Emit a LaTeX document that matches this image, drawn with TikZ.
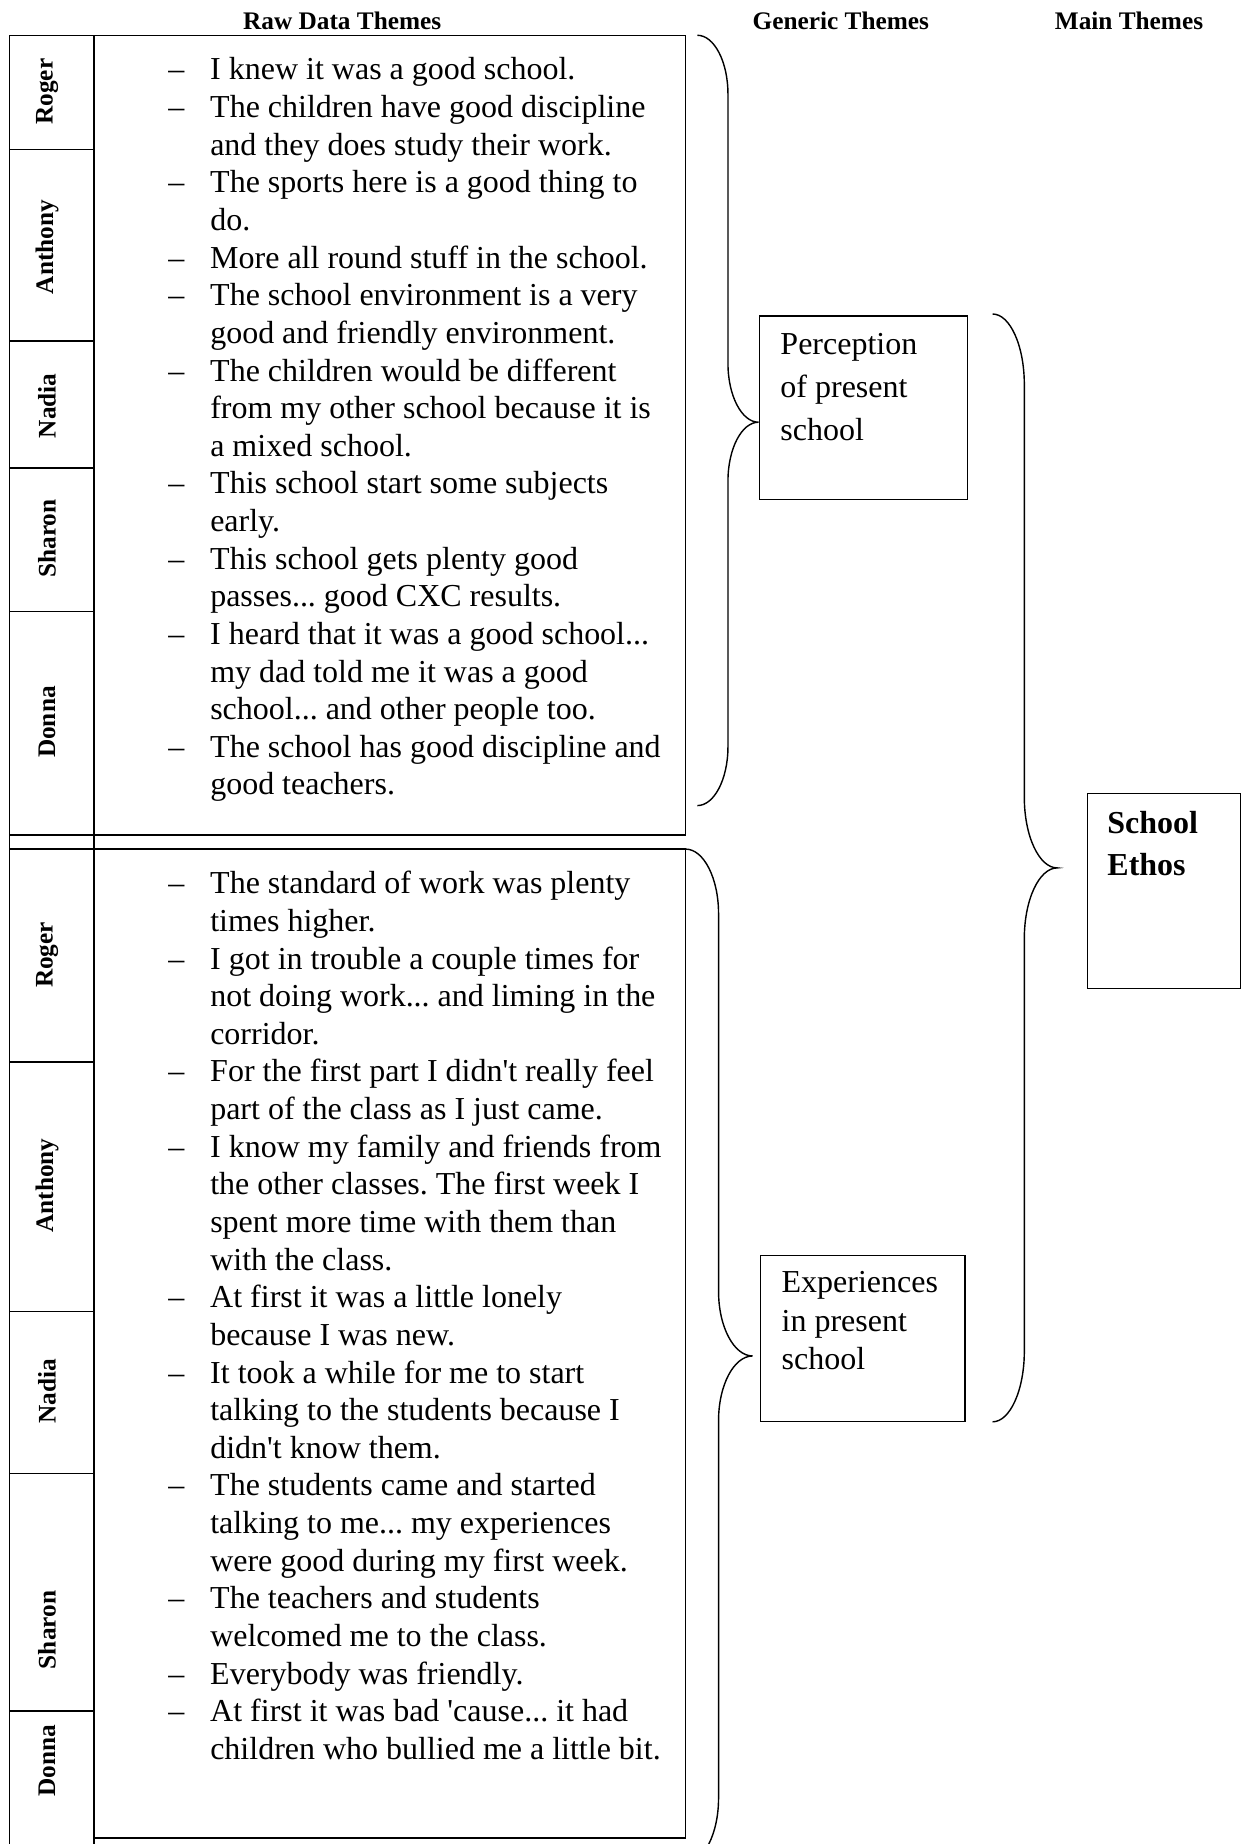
\documentclass[tikz,border=0pt]{standalone}
\usepackage{fontspec}
\setmainfont{Liberation Serif}[Ligatures=TeXOff]
\frenchspacing

% Curly brace opening to the right:
% #1 left end x, #2 stem x, #3 tip x, #4 top y, #5 tip y, #6 bottom y, #7 bend height
\newcommand{\curlybrace}[7]{%
  \draw[bracestroke] (#1,#4)
    .. controls ({#1+0.55*(#2-#1)},#4) and (#2,{#4+0.45*#7}) .. (#2,{#4+#7})
    -- (#2,{#5-#7})
    .. controls (#2,{#5-0.45*#7}) and ({#3-0.55*(#3-#2)},#5) .. (#3,#5)
    .. controls ({#3-0.55*(#3-#2)},#5) and (#2,{#5+0.45*#7}) .. (#2,{#5+#7})
    -- (#2,{#6-#7})
    .. controls (#2,{#6-0.45*#7}) and ({#1+0.55*(#2-#1)},#6) .. (#1,#6);}

\begin{document}
\begin{tikzpicture}[x=1pt,y=-1pt,
  frame/.style={line width=1.3pt},
  bracestroke/.style={line width=1.2pt},
  hdr/.style={font=\fontsize{21.5}{26}\selectfont\bfseries, inner sep=0pt, anchor=base},
  who/.style={font=\fontsize{21.5}{26}\selectfont\bfseries, rotate=90, inner sep=0pt},
  quotes/.style={font=\fontsize{27.2}{32}\selectfont, inner sep=0pt, anchor=base west},
  theme/.style={draw, line width=1.3pt, anchor=north west, inner sep=0pt}
]
\useasboundingbox (0,0) rectangle (1058,1568);
\clip (0,0) rectangle (1058,1568);

% column headings
\node[hdr] (hraw) at (291,25) {Raw Data Themes};
\node[hdr] (hgen) at (715,25) {Generic Themes};
\node[hdr] (hmain) at (960,25) {Main Themes};

% table frame, upper block
\draw[frame] (8,30) -- (583,30) -- (583,710) -- (8,710);
% table frame, lower block
\draw[frame] (8,722) -- (583,722) -- (583,1563) -- (80,1563);
% name column
\draw[frame] (8,30) -- (8,1570);
\draw[frame] (80,30) -- (80,1570);
\foreach \yy in {127,290,398,520,903,1115,1253,1455}
  \draw[frame] (8,\yy) -- (80,\yy);

% participant names, upper block
\node[who] (r1) at (40,78) {Roger};
\node[who] (a1) at (40,210) {Anthony};
\node[who] (n1) at (40,345) {Nadia};
\node[who] (s1) at (40,458) {Sharon};
\node[who] (d1) at (40,614) {Donna};
% participant names, lower block
\node[who] (r2) at (40,812) {Roger};
\node[who] (a2) at (40,1008) {Anthony};
\node[who] (n2) at (40,1183) {Nadia};
\node[who] (s2) at (40,1386) {Sharon};
\node[who] (d2) at (40,1497) {Donna};

% quotations, upper block
\node[quotes] (rawA) at (143,68) {\begin{tabular}[t]{@{}l@{\hspace{22pt}}l@{}}
–& I knew it was a good school.\\
–& The children have good discipline\\
 & and they does study their work.\\
–& The sports here is a good thing to\\
 & do.\\
–& More all round stuff in the school.\\
–& The school environment is a very\\
 & good and friendly environment.\\
–& The children would be different\\
 & from my other school because it is\\
 & a mixed school.\\
–& This school start some subjects\\
 & early.\\
–& This school gets plenty good\\
 & passes... good CXC results.\\
–& I heard that it was a good school...\\
 & my dad told me it was a good\\
 & school... and other people too.\\
–& The school has good discipline and\\
 & good teachers.
\end{tabular}};

% quotations, lower block
\node[quotes] (rawB) at (143,760) {\begin{tabular}[t]{@{}l@{\hspace{22pt}}l@{}}
–& The standard of work was plenty\\
 & times higher.\\
–& I got in trouble a couple times for\\
 & not doing work... and liming in the\\
 & corridor.\\
–& For the first part I didn't really feel\\
 & part of the class as I just came.\\
–& I know my family and friends from\\
 & the other classes. The first week I\\
 & spent more time with them than\\
 & with the class.\\
–& At first it was a little lonely\\
 & because I was new.\\
–& It took a while for me to start\\
 & talking to the students because I\\
 & didn't know them.\\
–& The students came and started\\
 & talking to me... my experiences\\
 & were good during my first week.\\
–& The teachers and students\\
 & welcomed me to the class.\\
–& Everybody was friendly.\\
–& At first it was bad 'cause... it had\\
 & children who bullied me a little bit.
\end{tabular}};

% generic themes
\node[theme, inner xsep=18pt, inner ysep=7pt] (perc) at (645,268)
  {\parbox[c][142pt][t]{141pt}{\fontsize{27.2}{36.5}\selectfont\raggedright\strut Perception\\of present\\school}};
\node[theme, inner xsep=18pt, inner ysep=9pt] (expe) at (646,1067)
  {\parbox[c][123pt][t]{138pt}{\fontsize{27.2}{32.5}\selectfont\raggedright\strut Experiences\\in present\\school}};
% main theme
\node[theme, inner xsep=17pt, inner ysep=9pt] (ethos) at (924,674)
  {\parbox[c][148pt][t]{96pt}{\fontsize{27.2}{36}\selectfont\bfseries\raggedright\strut School\\Ethos}};

% braces gathering the quotations into themes
\curlybrace{593}{619}{645}{30}{359}{685}{50}
\curlybrace{583}{611}{640}{722}{1153}{1584}{55}
\curlybrace{844}{871}{899}{267}{738}{1209}{60}
\end{tikzpicture}
\end{document}
